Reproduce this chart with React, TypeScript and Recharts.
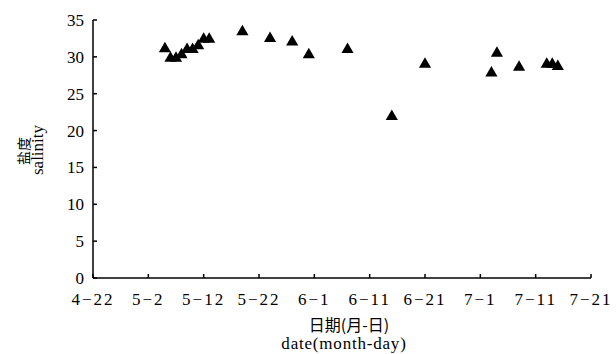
import { ScatterChart, Scatter, XAxis, YAxis } from "recharts";

// sampling dates (month-day) and measured salinity
const dates = [
  "5-5", "5-6", "5-7", "5-8", "5-9", "5-10", "5-11", "5-12", "5-13",
  "5-19", "5-24", "5-28", "5-31", "6-7", "6-15", "6-21",
  "7-3", "7-4", "7-8", "7-13", "7-14", "7-15",
];
const salinity = [
  31.1, 29.8, 29.8, 30.3, 31.0, 31.0, 31.5, 32.4, 32.4,
  33.4, 32.5, 32.0, 30.3, 31.0, 21.9, 29.0,
  27.8, 30.5, 28.6, 29.0, 29.0, 28.7,
];

const xTickDays = [0, 10, 20, 30, 40, 50, 60, 70, 80, 90];
const xTickLabels = ["4−22", "5−2", "5−12", "5−22", "6−1", "6−11", "6−21", "7−1", "7−11", "7−21"];
const yTicks = [0, 5, 10, 15, 20, 25, 30, 35];

// days counted from 4-22
const monthOffset: Record<number, number> = { 4: -22, 5: 8, 6: 39, 7: 69 };
const toDay = (s: string) => {
  const [m, d] = s.split("-").map(Number);
  return monthOffset[m] + d;
};

const data = dates.map((d, i) => ({ day: toDay(d), salinity: salinity[i] }));

const serif = '"Liberation Serif", "Times New Roman", serif';
const cjk = '"Noto Sans CJK SC", sans-serif';
const xTickStyle = { fontFamily: serif, fontSize: 17, fill: "#000", letterSpacing: 2 };
const yTickStyle = { fontFamily: serif, fontSize: 17, fill: "#000" };

const YLabel = () => (
  <g>
    <text
      x={23}
      y={151}
      transform="rotate(-90 23 151)"
      textAnchor="middle"
      dominantBaseline="central"
      fontFamily={cjk}
      fontSize={14}
      fill="#000"
    >
      盐度
    </text>
    <text
      x={37}
      y={150}
      transform="rotate(-90 37 150)"
      textAnchor="middle"
      dominantBaseline="central"
      fontFamily={serif}
      fontSize={17}
      fill="#000"
    >
      salinity
    </text>
  </g>
);

const XLabel = () => (
  <g>
    <text x={349} y={331} textAnchor="middle" fontFamily={cjk} fontSize={16} fill="#000">
      日期(月-日)
    </text>
    <text x={344} y={349} textAnchor="middle" fontFamily={serif} fontSize={17} letterSpacing={0.8} fill="#000">
      date(month-day)
    </text>
  </g>
);

export default function App() {
  return (
    <div style={{ width: 616, height: 354, background: "#fff" }}>
      <style>{`body{margin:0}`}</style>
      <ScatterChart width={616} height={354} margin={{ top: 20, right: 25, bottom: 0, left: 0 }}>
        <XAxis
          type="number"
          dataKey="day"
          domain={[0, 90]}
          ticks={xTickDays}
          tickFormatter={(v: number) => xTickLabels[xTickDays.indexOf(v)]}
          interval={0}
          height={76}
          axisLine={{ stroke: "#000", strokeWidth: 1.5 }}
          tickLine={{ stroke: "#000", strokeWidth: 1.5 }}
          tickSize={-4}
          tickMargin={19}
          tick={xTickStyle}
          label={<XLabel />}
        />
        <YAxis
          type="number"
          dataKey="salinity"
          domain={[0, 35]}
          ticks={yTicks}
          interval={0}
          width={93}
          axisLine={{ stroke: "#000", strokeWidth: 1.5 }}
          tickLine={{ stroke: "#000", strokeWidth: 1.5 }}
          tickSize={-4}
          tickMargin={13}
          tick={yTickStyle}
          label={<YLabel />}
        />
        <Scatter data={data} shape="triangle" fill="#000" isAnimationActive={false} />
      </ScatterChart>
    </div>
  );
}
